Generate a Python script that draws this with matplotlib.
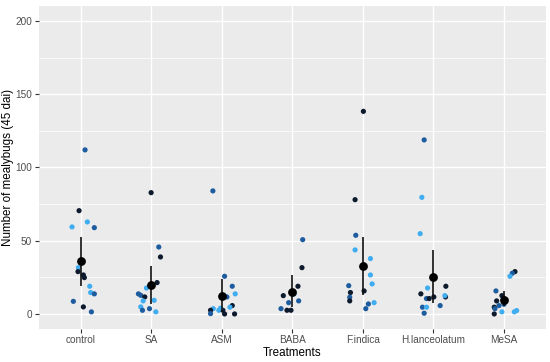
import matplotlib
matplotlib.use('Agg')
import matplotlib.pyplot as plt
import numpy as np

plt.rcParams['font.family'] = ['Liberation Sans', 'DejaVu Sans']

treatments = ['control', 'SA', 'ASM', 'BABA', 'F.indica', 'H.lanceolatum', 'MeSA']

# counts per treatment
counts = {
    'control': [112, 70.5, 62.8, 59.4, 58.9, 31.6, 28.9, 26.6, 24.8, 18.9, 14.6, 13.7, 8.6, 4.8, 1.4],
    'SA': [82.8, 45.7, 38.9, 21.4, 17.7, 13.7, 12.7, 11.6, 9.3, 8.9, 4.8, 2.5, 3.6, 1.4],
    'ASM': [84, 25.7, 18.9, 13.7, 11.6, 5.7, 4.6, 3.6, 2.5, 2.5, 2.5, 0.2, 0, 0, 3.9],
    'BABA': [50.7, 31.6, 18.9, 12.5, 13.7, 7.7, 8.9, 3.6, 2.5, 2.5],
    'F.indica': [138.3, 78, 53.7, 43.7, 37.8, 26.6, 20.5, 19.3, 14.6, 15.7, 11.4, 8.9, 7.7, 6.8, 3.6],
    'H.lanceolatum': [118.8, 79.6, 54.8, 17.7, 18.9, 13.7, 11.6, 12.5, 11.6, 10.5, 10.5, 5.7, 4.6, 4.6, 0.5],
    'MeSA': [28.9, 27.8, 25.7, 15.7, 12.5, 8.9, 10.2, 5.7, 6.6, 4.6, 3.6, 1.4, 0, 1.4, 2.3],
}

# colour group of each point: 0 dark, 1 mid, 2 light
groups = {
    'control': [1, 0, 2, 2, 1, 2, 0, 0, 0, 2, 2, 1, 1, 0, 1],
    'SA': [0, 1, 0, 0, 2, 1, 1, 0, 2, 2, 2, 1, 1, 2],
    'ASM': [1, 1, 1, 2, 1, 0, 2, 2, 2, 0, 0, 1, 0, 0, 2],
    'BABA': [1, 0, 0, 0, 2, 1, 1, 1, 0, 0],
    'F.indica': [0, 0, 1, 2, 2, 2, 2, 1, 0, 0, 1, 0, 2, 1, 1],
    'H.lanceolatum': [1, 2, 2, 2, 0, 0, 0, 2, 0, 1, 0, 1, 1, 2, 1],
    'MeSA': [0, 1, 2, 1, 0, 0, 0, 1, 1, 0, 1, 2, 0, 2, 2],
}

# horizontal jitter of each point (category units)
jitter = {
    'control': [.057, -.028, .09, -.128, .189, -.038, -.043, .033, .047, .123, .137, .189, -.109, .033, .147],
    'SA': [-.005, .104, .128, .08, -.071, -.185, -.152, -.095, .038, -.118, -.152, -.128, -.028, .062],
    'ASM': [-.128, .038, .147, .189, .071, .147, .114, -.123, -.043, -.161, .014, -.161, .038, .18, -.019],
    'BABA': [.147, .137, .08, -.128, .024, -.052, .09, -.161, -.076, -.019],
    'F.indica': [.009, -.109, -.099, -.109, .109, .109, .133, -.199, -.175, .019, -.185, -.185, .161, .08, .043],
    'H.lanceolatum': [-.128, -.161, -.185, -.08, .18, -.175, .175, .166, .009, -.095, -.057, .099, -.152, -.095, -.128],
    'MeSA': [.161, .123, .09, -.109, -.024, -.099, .009, -.066, .005, -.133, -.123, -.024, -.133, .152, .185],
}

means = [36, 19.8, 12.3, 15.2, 33, 25.5, 9.6]
err_lo = [19.1, 6.8, 1.0, 4.6, 13, 7.3, 5.5]
err_hi = [52.8, 32.8, 23.7, 26.4, 52.3, 43.7, 15.7]

palette = ['#0d1a2e', '#1d5c9f', '#3fadf0']

fig = plt.figure(figsize=(5.5, 3.62), dpi=100)
ax = fig.add_axes([0.0705, 0.0923, 0.922, 0.8902])
ax.set_facecolor('#EBEBEB')
for s in ax.spines.values():
    s.set_visible(False)

ax.set_yticks([0, 50, 100, 150, 200])
ax.set_yticks([25, 75, 125, 175], minor=True)
ax.set_xticks(range(len(treatments)))
ax.set_xticklabels(treatments)
ax.grid(True, which='major', color='white', linewidth=1.0)
ax.grid(True, which='minor', axis='y', color='white', linewidth=0.5)
ax.set_axisbelow(True)
ax.tick_params(which='major', length=2.75, width=0.8, color='#333333',
               labelcolor='#4D4D4D', labelsize=7.2, pad=2)
ax.tick_params(which='minor', length=0)

for i, t in enumerate(treatments):
    xs = i + np.array(jitter[t])
    cols = [palette[g] for g in groups[t]]
    ax.scatter(xs, counts[t], s=14, c=cols, linewidths=0, zorder=3)

xpos = np.arange(len(treatments))
ax.vlines(xpos, err_lo, err_hi, color='#111111', linewidth=1.2, zorder=4)
ax.scatter(xpos, means, s=40, color='black', linewidths=0, zorder=5)

ax.set_xlim(-0.6, len(treatments) - 0.4)
ax.set_ylim(-10, 210)
ax.set_xlabel('Treatments', fontsize=8.4, labelpad=1.5)
ax.set_ylabel('Number of mealybugs (45 dai)', fontsize=8.4, labelpad=1)

fig.savefig('out.png', dpi=100)
